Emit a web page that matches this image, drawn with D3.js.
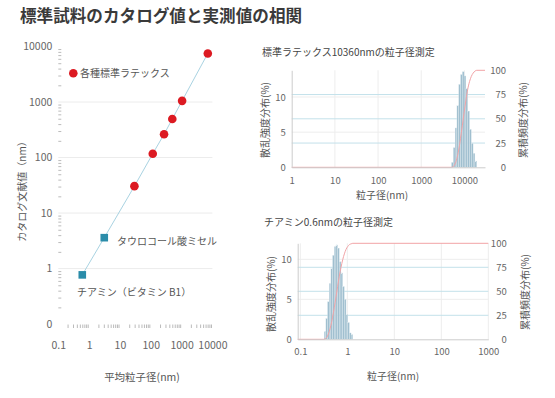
<!DOCTYPE html>
<html>
<head>
<meta charset="utf-8">
<script src="https://cdn.jsdelivr.net/npm/d3@7"></script>
<style>
body { margin: 0; background: #fff; }
svg text { font-family: "Noto Sans CJK JP", "Noto Sans", sans-serif; }
</style>
</head>
<body>
<svg id="chart" width="555" height="398"></svg>
<script>
// correlation chart data (catalog value vs measured mean size, nm)
var latexCatalog = [7500, 1050, 495, 262, 117, 30.5];
var latexMeasured = [7100, 1040, 500, 270, 116, 29.5];
var otherNames = ["タウロコール酸ミセル", "チアミン（ビタミン B1）"];
var otherCatalog = [3.6, 0.77];
var otherMeasured = [3.1, 0.6];
var mainTicks = [0.1, 1, 10, 100, 1000, 10000];
var mainXTickLabels = ["0.1", "1", "10", "100", "1000", "10000"];
var mainYTickLabels = ["0", "1", "10", "100", "1000", "10000"];

// distribution data (size nm, scattering intensity %)
var latexSizes = [5260, 5800, 6380, 7030, 7740, 8520, 9380, 10330, 11370, 12520, 13790, 15180, 16720, 18410];
var latexIntensity = [0.7, 2.8, 5.6, 8.8, 11.8, 13.2, 13.6, 13.0, 11.2, 8.0, 5.4, 3.4, 2.0, 0.9];
var thiamineSizes = [0.335, 0.364, 0.395, 0.429, 0.466, 0.506, 0.550, 0.597, 0.649, 0.705, 0.765, 0.831, 0.903, 0.981, 1.065, 1.157, 1.257];
var thiamineIntensity = [1.0, 2.6, 4.7, 7.0, 8.9, 10.5, 11.6, 11.8, 11.4, 9.7, 8.3, 6.6, 5.0, 3.1, 2.1, 0.8, 0.6];
var latexTicks = [1, 10, 100, 1000, 10000];
var thiamineTicks = [0.1, 1, 10, 100, 1000];
var leftTicks = [0, 5, 10];
var rightTicks = [0, 25, 50, 75, 100];

var svg = d3.select("#chart");

// title
svg.append("text")
    .attr("x", 20).attr("y", 22)
    .attr("font-size", 16.6).attr("font-weight", 700)
    .attr("font-family", "\"Noto Serif CJK JP\", \"Noto Sans CJK JP\", serif")
    .attr("fill", "#3a3a3a")
    .text("標準試料のカタログ値と実測値の相関");

// ---------- main correlation chart ----------

var x = d3.scaleLog().domain([0.1, 10000]).range([58.3, 212.4]);
var y = d3.scaleLog().domain([0.085, 10000]).range([328, 46.5]);

var minorX = [], minorY = [];
mainTicks.slice(0, -1).forEach(function(t) {
    for (var k = 2; k < 10; k++) { minorX.push(t * k); minorY.push(t * k); }
});

var main = svg.append("g");

main.selectAll(".grid")
    .data(mainTicks.slice(1, 5))
    .enter().append("line")
    .attr("x1", x.range()[0]).attr("x2", x.range()[1])
    .attr("y1", function(d) { return y(d); })
    .attr("y2", function(d) { return y(d); })
    .attr("stroke", "#ececec");

var xAxis = main.append("g")
    .attr("transform", "translate(0," + y.range()[0] + ")")
    .call(d3.axisBottom(x).tickValues(mainTicks)
        .tickFormat(function(d, i) { return mainXTickLabels[i]; })
        .tickSize(0).tickPadding(14));
xAxis.append("g").call(d3.axisBottom(x).tickValues(minorX).tickFormat("").tickSize(-3.5));

var yAxis = main.append("g")
    .attr("transform", "translate(" + x.range()[0] + ",0)")
    .call(d3.axisLeft(y).tickValues(mainTicks)
        .tickFormat(function(d, i) { return mainYTickLabels[i]; })
        .tickSize(0).tickPadding(6));
yAxis.append("g").call(d3.axisLeft(y).tickValues(minorY).tickFormat("").tickSize(-3));

main.selectAll(".domain").attr("stroke", "#bbb");
main.selectAll(".tick line").attr("stroke", "#bbb");
main.selectAll(".tick text").attr("fill", "#666").attr("font-size", 10.5)
    .attr("font-family", "\"Noto Sans CJK JP\", sans-serif");
xAxis.selectAll("g > g .domain").remove();
yAxis.selectAll("g > g .domain").remove();

// line through all points
var allPts = latexMeasured.map(function(d, i) { return [d, latexCatalog[i]]; })
    .concat(otherMeasured.map(function(d, i) { return [d, otherCatalog[i]]; }))
    .sort(function(a, b) { return a[0] - b[0]; });

main.append("path")
    .datum(allPts)
    .attr("fill", "none")
    .attr("stroke", "#a9d3e2")
    .attr("stroke-width", 1)
    .attr("d", d3.line().x(function(d) { return x(d[0]); }).y(function(d) { return y(d[1]); }));

main.selectAll(".latex")
    .data(latexMeasured)
    .enter().append("circle")
    .attr("cx", function(d) { return x(d); })
    .attr("cy", function(d, i) { return y(latexCatalog[i]); })
    .attr("r", 4.3)
    .attr("fill", "#dc1a22");

main.selectAll(".other")
    .data(otherMeasured)
    .enter().append("rect")
    .attr("x", function(d) { return x(d) - 3.8; })
    .attr("y", function(d, i) { return y(otherCatalog[i]) - 3.8; })
    .attr("width", 7.6).attr("height", 7.6)
    .attr("fill", "#2a8ca9");

var labelOffsets = [[12.7, 3.5], [-5.3, 17.5]];
main.selectAll(".otherLabel")
    .data(otherNames)
    .enter().append("text")
    .attr("x", function(d, i) { return x(otherMeasured[i]) + labelOffsets[i][0]; })
    .attr("y", function(d, i) { return y(otherCatalog[i]) + labelOffsets[i][1]; })
    .attr("dy", "0.35em")
    .attr("font-size", 10).attr("fill", "#555")
    .text(function(d) { return d; });

// legend
main.append("circle").attr("cx", 73.3).attr("cy", 73.3).attr("r", 4.3).attr("fill", "#dc1a22");
main.append("text").attr("x", 80).attr("y", 73.5).attr("dy", "0.35em")
    .attr("font-size", 10).attr("fill", "#555").text("各種標準ラテックス");

main.append("text")
    .attr("transform", "translate(22,189) rotate(-90)")
    .attr("text-anchor", "middle").attr("dy", "0.35em")
    .attr("font-size", 10).attr("fill", "#555")
    .text("カタログ文献値（nm）");

main.append("text")
    .attr("x", 142).attr("y", 377).attr("dy", "0.35em")
    .attr("text-anchor", "middle")
    .attr("font-size", 10.5).attr("fill", "#555")
    .text("平均粒子径(nm)");

// ---------- distribution charts ----------

function drawDist(cfg)
{
    var g = svg.append("g");
    var xs = d3.scaleLog().domain(cfg.xDomain).range(cfg.xRange);
    var yl = d3.scaleLinear().domain([0, cfg.leftMax]).range(cfg.yRange);
    var yr = d3.scaleLinear().domain([0, 100]).range(cfg.yRange);
    var sizes = cfg.sizes, vals = cfg.values;

    g.append("text")
        .attr("x", cfg.titlePos[0]).attr("y", cfg.titlePos[1]).attr("dy", "0.35em")
        .attr("font-size", 10).attr("fill", "#444").text(cfg.title);

    // vertical grid
    g.selectAll(".vgrid")
        .data(cfg.ticks.filter(function(d) { return xs(d) > cfg.xRange[0] + 1; }))
        .enter().append("line")
        .attr("x1", function(d) { return xs(d); }).attr("x2", function(d) { return xs(d); })
        .attr("y1", cfg.yRange[0]).attr("y2", cfg.yRange[1])
        .attr("stroke", "#ededed");

    g.selectAll(".lgrid")
        .data(leftTicks.slice(1))
        .enter().append("line")
        .attr("x1", cfg.xRange[0]).attr("x2", cfg.xRange[1])
        .attr("y1", function(d) { return yl(d); }).attr("y2", function(d) { return yl(d); })
        .attr("stroke", "#ededed");

    g.selectAll(".rgrid")
        .data(rightTicks.slice(1, 4))
        .enter().append("line")
        .attr("x1", cfg.xRange[0]).attr("x2", cfg.xRange[1])
        .attr("y1", function(d) { return yr(d); }).attr("y2", function(d) { return yr(d); })
        .attr("stroke", "#c3e1ea");

    // bin edges from geometric midpoints
    var edges = sizes.map(function(d, i) {
        var lo = i > 0 ? Math.sqrt(sizes[i - 1] * d) : d * d / Math.sqrt(d * sizes[i + 1]);
        var hi = i < sizes.length - 1 ? Math.sqrt(d * sizes[i + 1]) : d * d / Math.sqrt(sizes[i - 1] * d);
        return [lo, hi];
    });

    g.selectAll(".bar")
        .data(vals)
        .enter().append("rect")
        .attr("x", function(d, i) { return xs(edges[i][0]); })
        .attr("width", function(d, i) { return xs(edges[i][1]) - xs(edges[i][0]); })
        .attr("y", function(d) { return yl(d); })
        .attr("height", function(d) { return yl(0) - yl(d); })
        .attr("fill", "#a0bfcf")
        .attr("stroke", "#e8f0f4").attr("stroke-width", 0.3);

    // cumulative curve
    var cum = d3.cumsum(vals), total = cum[cum.length - 1];
    var pts = [[cfg.xDomain[0], 0], [edges[0][0], 0]];
    edges.forEach(function(e, i) { pts.push([e[1], cum[i] / total * 100]); });
    pts.push([cfg.xDomain[1], 100]);

    g.append("path")
        .datum(pts)
        .attr("fill", "none")
        .attr("stroke", "#f2a3a6")
        .attr("stroke-width", 1)
        .attr("d", d3.line().curve(d3.curveMonotoneX)
            .x(function(d) { return xs(d[0]); })
            .y(function(d) { return yr(d[1]); }));

    var ax = g.append("g")
        .attr("transform", "translate(0," + cfg.yRange[0] + ")")
        .call(d3.axisBottom(xs).tickValues(cfg.ticks).tickFormat(d3.format("~g")).tickSize(0).tickPadding(cfg.xPad));
    var al = g.append("g")
        .attr("transform", "translate(" + cfg.xRange[0] + ",0)")
        .call(d3.axisLeft(yl).tickValues(leftTicks).tickSize(0).tickPadding(6));
    var ar = g.append("g")
        .attr("transform", "translate(" + cfg.xRange[1] + ",0)")
        .call(d3.axisRight(yr).tickValues(rightTicks).tickSize(0).tickPadding(cfg.rightPad));
    ar.select(".domain").remove();
    ar.selectAll("text").attr("text-anchor", "end");
    g.selectAll(".domain").attr("stroke", "#ccc");
    g.selectAll(".tick text").attr("fill", "#666").attr("font-size", 9.5)
        .attr("font-family", "\"Noto Sans CJK JP\", sans-serif");

    g.append("text")
        .attr("transform", "translate(" + cfg.leftTitle[0] + "," + cfg.leftTitle[1] + ") rotate(-90)")
        .attr("text-anchor", "middle").attr("dy", "0.35em")
        .attr("font-size", 10).attr("fill", "#555").text("散乱強度分布(%)");
    g.append("text")
        .attr("transform", "translate(" + cfg.rightTitle[0] + "," + cfg.rightTitle[1] + ") rotate(-90)")
        .attr("text-anchor", "middle").attr("dy", "0.35em")
        .attr("font-size", 10).attr("fill", "#555").text("累積頻度分布(%)");
    g.append("text")
        .attr("x", cfg.xTitle[0]).attr("y", cfg.xTitle[1]).attr("dy", "0.35em")
        .attr("text-anchor", "middle")
        .attr("font-size", 10).attr("fill", "#555").text("粒子径(nm)");
}

drawDist({
    title: "標準ラテックス10360nmの粒子径測定",
    titlePos: [262, 52],
    sizes: latexSizes, values: latexIntensity, ticks: latexTicks,
    xDomain: [1, 30000], xRange: [291.7, 485],
    yRange: [167.3, 70.3], leftMax: 13.8,
    xPad: 9.5, rightPad: 21,
    leftTitle: [265, 120], rightTitle: [523, 120], xTitle: [382, 195]
});

drawDist({
    title: "チアミン0.6nmの粒子径測定",
    titlePos: [264, 222],
    sizes: thiamineSizes, values: thiamineIntensity, ticks: thiamineTicks,
    xDomain: [0.088, 1000], xRange: [297.7, 488.3],
    yRange: [339.3, 243.3], leftMax: 12.0,
    xPad: 8.5, rightPad: 18.4,
    leftTitle: [271.7, 294], rightTitle: [525, 292], xTitle: [393, 376.7]
});
</script>
</body>
</html>
